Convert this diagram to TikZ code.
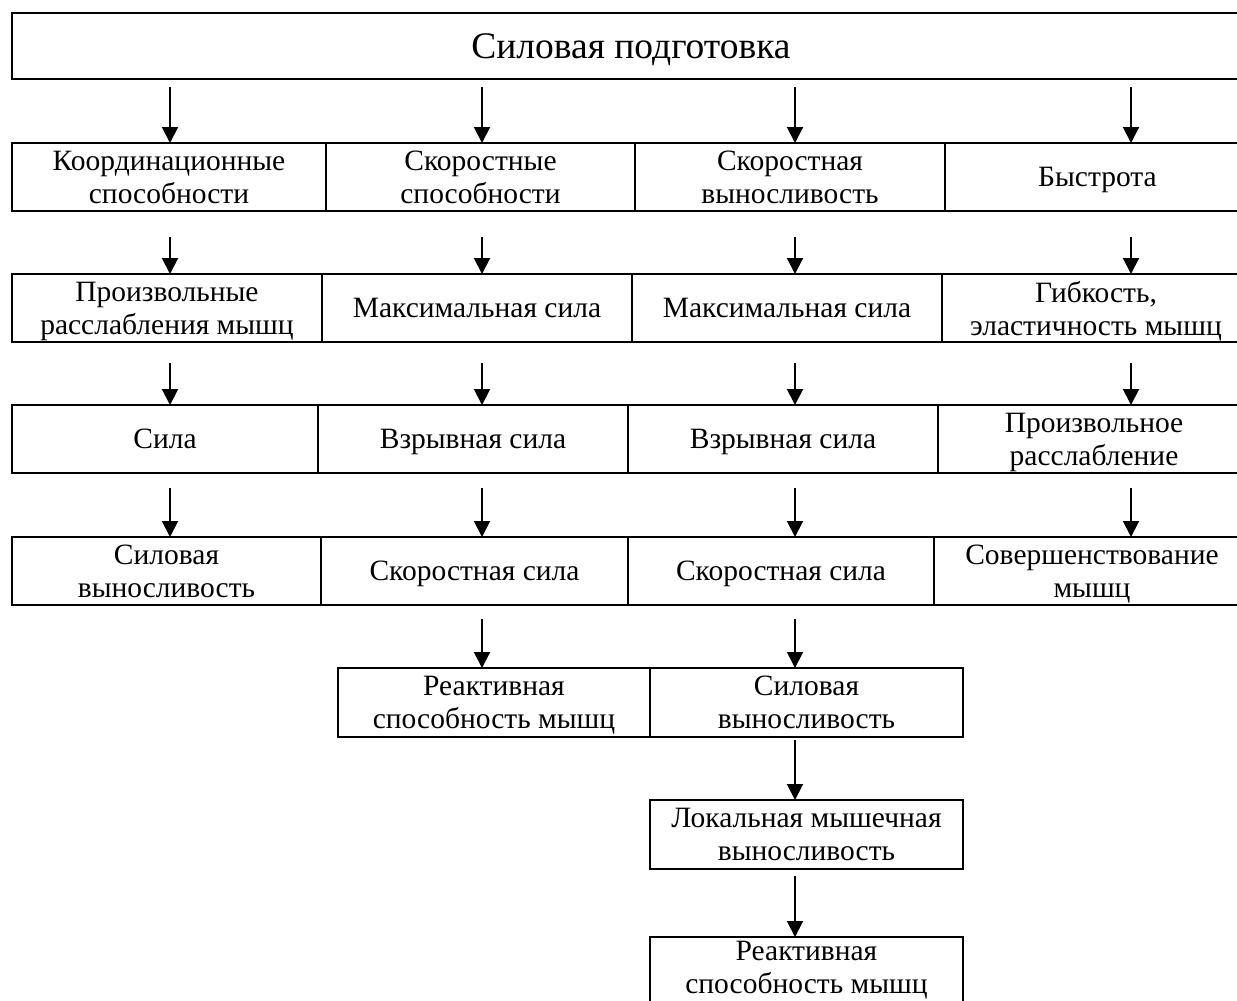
\documentclass[tikz,border=0pt]{standalone}
\usepackage{fontspec}
\setmainfont{Liberation Serif}
\usetikzlibrary{arrows.meta,calc}
\newcommand\cellat[7][]{\node[cell, #1, minimum width={(#5)-(#3)}, minimum height={(#6)-(#4)}] (#2) at (#3,#4) {#7};}
\newcommand\conn[4]{\draw[arr] ($(#1.south -| #4)+(0,#3)$) -- (#2.north -| #4);}
\begin{document}
\begin{tikzpicture}[x=1pt,y=-1pt,
  cell/.style={draw=black, line width=1.8pt, anchor=north west, inner sep=0pt, outer sep=0pt, align=center, text depth=0pt, font=\fontsize{29.5}{33}\selectfont},
  arr/.style={line width=2pt, -{Triangle[width=16pt,length=16pt]}}]
\useasboundingbox (0,0) rectangle (1237,1001);
\clip (0,0) rectangle (1237,1001);
\coordinate (c1) at (170,0);
\coordinate (c2) at (482,0);
\coordinate (c3) at (795,0);
\coordinate (c4) at (1131,0);
% top
\node[cell, minimum width=1238, minimum height=66, font=\fontsize{37.5}{42}\selectfont] (top) at (12,13) {Силовая подготовка};
% row 1
\cellat{ra1}{12}{143}{326}{211}{Координационные\\способности}
\cellat{ra2}{326}{143}{635}{211}{Скоростные\\способности}
\cellat{ra3}{635}{143}{945}{211}{Скоростная\\выносливость}
\cellat{ra4}{945}{143}{1250}{211}{Быстрота}
% row 2
\cellat{rb1}{12}{274}{322}{342}{Произвольные\\расслабления мышц}
\cellat{rb2}{322}{274}{632}{342}{Максимальная сила}
\cellat{rb3}{632}{274}{942}{342}{Максимальная сила}
\cellat{rb4}{942}{274}{1250}{342}{Гибкость,\\эластичность мышц}
% row 3
\cellat{rc1}{12}{405}{318}{473}{Сила}
\cellat{rc2}{318}{405}{628}{473}{Взрывная сила}
\cellat{rc3}{628}{405}{938}{473}{Взрывная сила}
\cellat{rc4}{938}{405}{1250}{473}{Произвольное\\расслабление}
% row 4
\cellat{rd1}{12}{537}{321}{605}{Силовая\\выносливость}
\cellat{rd2}{321}{537}{628}{605}{Скоростная сила}
\cellat{rd3}{628}{537}{934}{605}{Скоростная сила}
\cellat{rd4}{934}{537}{1250}{605}{Совершенствование\\мышц}
% row 5
\cellat{re2}{338}{668}{650}{737}{Реактивная\\способность мышц}
\cellat{re3}{650}{668}{963}{737}{Силовая\\выносливость}
% row 6
\cellat{rf3}{650}{800}{963}{869}{Локальная мышечная\\выносливость}
% row 7
\cellat[text depth=13pt]{rg3}{650}{937}{963}{1010}{Реактивная\\способность мышц}
% arrows
\conn{top}{ra1}{8}{c1}
\conn{top}{ra2}{8}{c2}
\conn{top}{ra3}{8}{c3}
\conn{top}{ra4}{8}{c4}
\conn{ra1}{rb1}{26}{c1}
\conn{ra2}{rb2}{26}{c2}
\conn{ra3}{rb3}{26}{c3}
\conn{ra4}{rb4}{26}{c4}
\conn{rb1}{rc1}{21}{c1}
\conn{rb2}{rc2}{21}{c2}
\conn{rb3}{rc3}{21}{c3}
\conn{rb4}{rc4}{21}{c4}
\conn{rc1}{rd1}{15}{c1}
\conn{rc2}{rd2}{15}{c2}
\conn{rc3}{rd3}{15}{c3}
\conn{rc4}{rd4}{15}{c4}
\conn{rd2}{re2}{14}{c2}
\conn{rd3}{re3}{14}{c3}
\conn{re3}{rf3}{3}{c3}
\conn{rf3}{rg3}{7}{c3}
\end{tikzpicture}
\end{document}
